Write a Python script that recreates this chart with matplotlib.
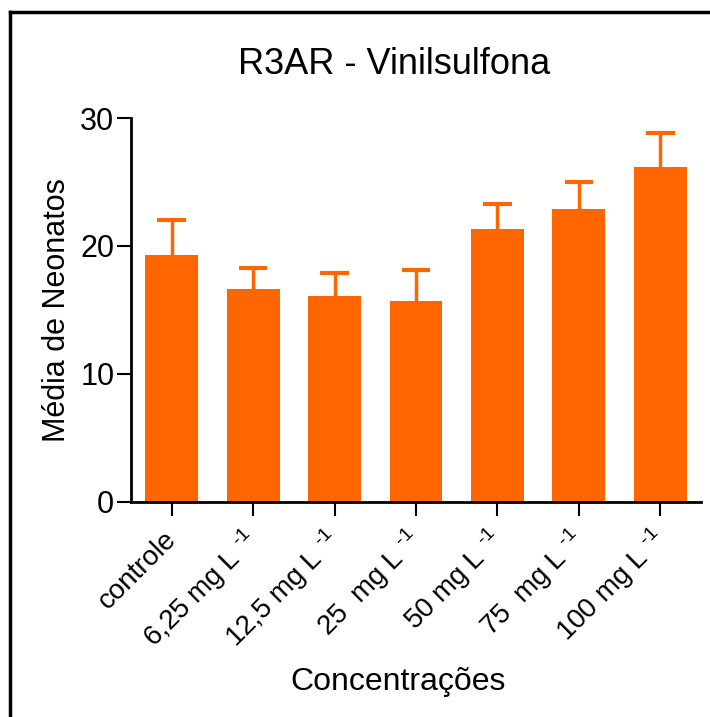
import matplotlib.pyplot as plt
import matplotlib.transforms as mtransforms
from matplotlib.lines import Line2D

plt.rcParams["font.family"] = ["Liberation Sans", "DejaVu Sans"]
plt.rcParams["mathtext.fontset"] = "custom"
plt.rcParams["mathtext.rm"] = "Liberation Sans"

# Mean neonates per concentration, with the upper error bar
categories = [
    "controle",
    r"6,25 mg L $^{\text{-1}}$",
    r"12,5 mg L $^{\text{-1}}$",
    r"25  mg L $^{\text{-1}}$",
    r"50 mg L $^{\text{-1}}$",
    r"75  mg L $^{\text{-1}}$",
    r"100 mg L $^{\text{-1}}$",
]
means = [19.3, 16.6, 16.1, 15.7, 21.3, 22.9, 26.2]
errors = [2.7, 1.7, 1.8, 2.4, 2.0, 2.1, 2.6]
yticks = [0, 10, 20, 30]

bar_color = "#FF6600"

fig = plt.figure(figsize=(7.10, 7.17), dpi=100)
ax = fig.add_axes([131 / 710, 215.3 / 717, 570 / 710, 383.6 / 717])

x = list(range(len(categories)))
tops = [m + e for m, e in zip(means, errors)]
ax.bar(x, means, width=0.65, color=bar_color, edgecolor="none", zorder=2)
# upper error bars only: stem plus cap
ax.vlines(x, means, tops, color=bar_color, linewidth=2.5, zorder=3)
ax.hlines(tops, [i - 0.175 for i in x], [i + 0.175 for i in x],
          color=bar_color, linewidth=3, zorder=3)

ax.set_xlim(-0.5, len(categories) - 0.5)
ax.set_ylim(0, 30)
ax.set_yticks(yticks)
ax.set_xticks(x)
ax.set_xticklabels([])
ax.tick_params(axis="y", labelsize=22, length=10, width=1.5, direction="out", pad=2)
ax.tick_params(axis="x", length=10, width=1.5, direction="out")

# rotated category labels, right-centre anchored below each tick
offset = mtransforms.ScaledTranslation(1 / 100, -34 / 100, fig.dpi_scale_trans)
for i, label in zip(x, categories):
    ax.text(i, 0, label, transform=ax.get_xaxis_transform() + offset,
            rotation=45, ha="right", va="center", rotation_mode="anchor",
            fontsize=20)

for side in ["top", "right"]:
    ax.spines[side].set_visible(False)
for side in ["left", "bottom"]:
    ax.spines[side].set_linewidth(2)

ax.set_ylabel("Média de Neonatos", fontsize=22, labelpad=6)
ax.set_xlabel("Concentrações", fontsize=23)
ax.xaxis.set_label_coords(0.468, -0.43)
ax.set_title("R3AR - Vinilsulfona", fontsize=26, pad=32, x=0.461)

# partial frame around the figure (top and left edges)
fig.add_artist(Line2D([10 / 710, 1.0], [1 - 12 / 717, 1 - 12 / 717],
                      transform=fig.transFigure, color="black", linewidth=2.5))
fig.add_artist(Line2D([10 / 710, 10 / 710], [0, 1 - 12 / 717],
                      transform=fig.transFigure, color="black", linewidth=2.5))

fig.savefig("out.png", dpi=100)
